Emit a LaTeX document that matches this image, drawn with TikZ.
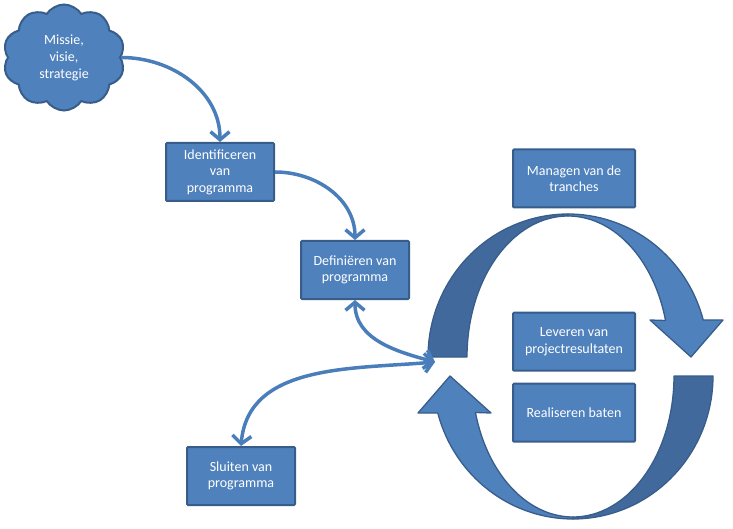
\documentclass[tikz,border=0pt]{standalone}
\usepackage{fontspec}
\setmainfont{Carlito}
\usetikzlibrary{arrows.meta,shapes.symbols}
\definecolor{boxfill}{HTML}{4F81BD}
\definecolor{boxline}{HTML}{385D8A}
\definecolor{darkband}{HTML}{41699C}
\definecolor{connc}{HTML}{4A7EBB}
\begin{document}
\begin{tikzpicture}[x=1pt,y=-1pt,
  box/.style={rectangle, fill=boxfill, draw=boxline, line width=2pt, rounded corners=1pt,
    minimum width=108pt, minimum height=58pt, text=white, align=center, inner sep=2pt,
    font=\fontsize{14}{16.5}\selectfont},
  widebox/.style={box, minimum width=122pt},
  tip/.style={Straight Barb[length=8pt,width=19pt]},
  conn/.style={draw=connc, line width=3.5pt, -{Straight Barb[length=8pt,width=19pt]}},
  conn2/.style={draw=connc, line width=3.5pt, {Straight Barb[length=8pt,width=19pt]}-{Straight Barb[length=8pt,width=19pt]}},
  band/.style={fill=boxfill, draw=boxline, line width=1.3pt, line join=round},
  darkpart/.style={fill=darkband, draw=boxline, line width=1.3pt, line join=round}]
\useasboundingbox (0,0) rectangle (733,529);

% cloud
\node[cloud, cloud puffs=10, cloud puff arc=115, aspect=1.15, fill=boxfill, draw=boxline,
  line width=2pt, minimum width=122pt, minimum height=106pt, inner sep=0pt, text=white,
  align=center, font=\fontsize{14}{17}\selectfont] (cloud) at (64,57.5) {Missie,\\visie,\\strategie};

% boxes
\node[box] (ident) at (220,172) {Identificeren\\van\\programma};
\node[box] (defi) at (355,270) {Definiëren van\\programma};
\node[box] (sluit) at (241,476) {Sluiten van\\programma};
\node[widebox] (manag) at (574,178.5) {Managen van de\\tranches};
\node[widebox] (lever) at (574,341.7) {Leveren van\\projectresultaten};
\node[widebox] (real) at (574,412.7) {Realiseren baten};

% circular arrows
\newcommand{\cyclearrow}{%
  \filldraw[darkpart] plot[domain=180:90, samples=40] ({568+140*cos(\x)},{357-143*sin(\x)})
     -- plot[domain=90:180, samples=40] ({568+101*cos(\x)},{357-141*sin(\x)}) -- cycle;
  \filldraw[band] plot[domain=90:15, samples=40] ({568+140*cos(\x)},{357-143*sin(\x)})
     -- (723,320) -- (691,357) -- (650,320)
     -- plot[domain=15:90, samples=40] ({568+101*cos(\x)},{357-141*sin(\x)}) -- cycle;}
\cyclearrow
\begin{scope}[rotate around={180:(570.5,366.5)}]
\cyclearrow
\end{scope}

\coordinate (hub) at (435,362);

% connectors
\draw[conn] (cloud.east) to[out=0,in=90] (ident.north);
\draw[conn] (ident.east) to[out=0,in=90] (defi.north);
\draw[conn2] (defi.south) to[out=-90,in=165] (hub);
\draw[conn2] (sluit.north) to[out=85,in=185] (hub);
\end{tikzpicture}
\end{document}
